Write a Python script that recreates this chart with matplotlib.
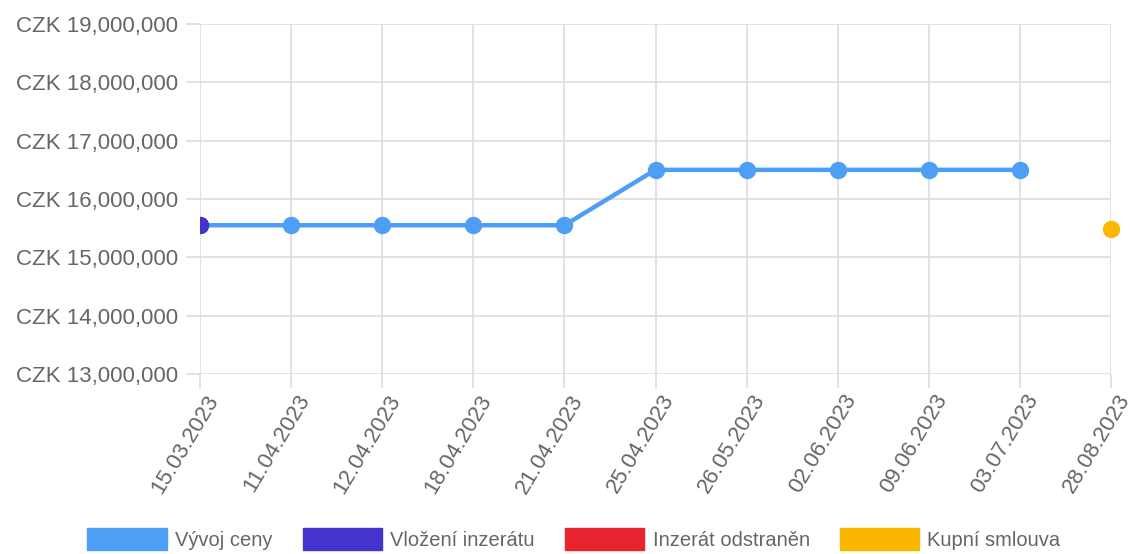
import numpy as np
import matplotlib.pyplot as plt
import matplotlib.transforms as mtransforms
from matplotlib.patches import Patch
from matplotlib.ticker import FuncFormatter

dates = ["15.03.2023", "11.04.2023", "12.04.2023", "18.04.2023", "21.04.2023",
         "25.04.2023", "26.05.2023", "02.06.2023", "09.06.2023", "03.07.2023",
         "28.08.2023"]
vyvoj_ceny = [15550000, 15550000, 15550000, 15550000, 15550000,
              16500000, 16500000, 16500000, 16500000, 16500000]
vlozeni_idx = [0]
vlozeni_val = [15550000]
kupni_idx = [10]
kupni_val = [15490000]
legend_labels = ["Vývoj ceny", "Vložení inzerátu", "Inzerát odstraněn", "Kupní smlouva"]

c_line = "#4d9ef5"
c_insert = "#4433cc"
c_removed = "#e8242e"
c_contract = "#fbb700"
grid_c = "#dddddd"
text_c = "#666666"

plt.rcParams['font.family'] = ['Liberation Sans', 'DejaVu Sans']

fig = plt.figure(figsize=(11.32, 5.54), dpi=100)
ax = fig.add_axes([200 / 1132, 1 - 374 / 554, 911 / 1132, 350 / 554])

x = np.arange(len(dates))
ax.plot(x[:len(vyvoj_ceny)], vyvoj_ceny, color=c_line, lw=3.2, marker="o",
        ms=11.5, mec=c_line, zorder=3)
ax.plot(vlozeni_idx, vlozeni_val, "o", color=c_insert, ms=11.5, zorder=4)
ax.plot(kupni_idx, kupni_val, "o", color=c_contract, ms=11.5, zorder=4,
        clip_on=False)

ax.set_xlim(0, len(dates) - 1)
ax.set_ylim(13000000, 19000000)
ax.set_yticks(np.arange(13000000, 19000001, 1000000))
ax.yaxis.set_major_formatter(FuncFormatter(lambda v, p: "CZK {:,.0f}".format(v)))
ax.set_xticks(x)
ax.set_xticklabels(dates, rotation=59, ha="right", va="center",
                   rotation_mode="anchor")

ax.grid(True, color=grid_c, lw=1.2)
ax.set_axisbelow(True)
for s in ax.spines.values():
    s.set_visible(False)
ax.tick_params(axis="both", length=10, width=1.2, color=grid_c, labelcolor=text_c,
               labelsize=16)
ax.tick_params(axis="y", pad=6)
ax.tick_params(axis="x", pad=6)

# nudge the rotated date labels to the right of their ticks
shift = mtransforms.ScaledTranslation(14 / 100, 0, fig.dpi_scale_trans)
for lbl in ax.get_xticklabels():
    lbl.set_fontsize(16)
    lbl.set_transform(lbl.get_transform() + shift)

handles = [Patch(color=c) for c in (c_line, c_insert, c_removed, c_contract)]
leg = fig.legend(handles, legend_labels, loc="lower center", ncol=4,
                 bbox_to_anchor=(0.507, -0.025), frameon=False,
                 prop={"size": 14.5},
                 handlelength=3.95, handleheight=1.25, handletextpad=0.4,
                 columnspacing=1.5)
for t in leg.get_texts():
    t.set_color(text_c)

fig.savefig("out.png", dpi=100)
